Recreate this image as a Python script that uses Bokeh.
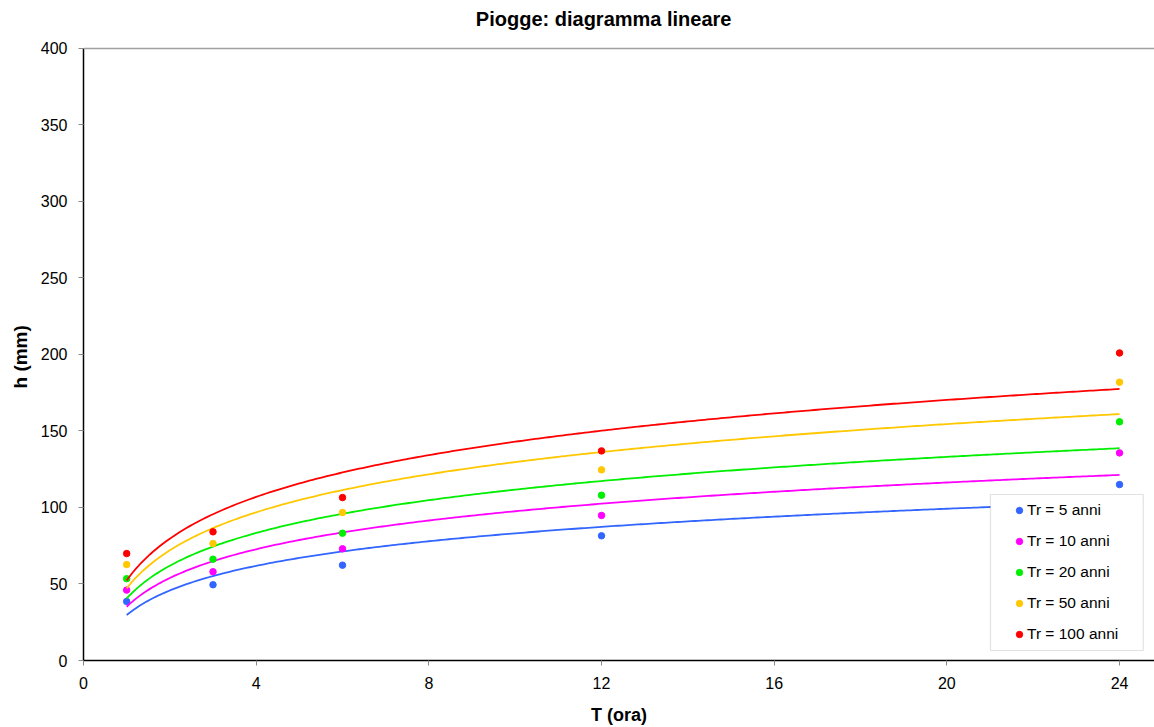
import numpy as np
from bokeh.plotting import figure
from bokeh.models import Legend, LegendItem, Span, FixedTicker, Range1d, Label, BoxAnnotation, Title
from bokeh.embed import file_html
from bokeh.resources import INLINE

# Durations (hours) and rainfall heights (mm) for each return period
durations = [1, 3, 6, 12, 24]
h_tr5 = [38.6, 49.5, 62.3, 81.5, 115.0]
h_tr10 = [46.0, 58.0, 73.0, 94.8, 135.7]
h_tr20 = [53.5, 66.2, 83.2, 108.0, 156.0]
h_tr50 = [62.7, 76.5, 96.7, 124.6, 181.9]
h_tr100 = [69.9, 84.1, 106.5, 137.0, 201.0]

series_labels = ["Tr = 5 anni", "Tr = 10 anni", "Tr = 20 anni", "Tr = 50 anni", "Tr = 100 anni"]
series_values = [h_tr5, h_tr10, h_tr20, h_tr50, h_tr100]
series_colors = ["#3366FF", "#FF00FF", "#00EE00", "#FFC800", "#FF0000"]

x_ticks = [0, 4, 8, 12, 16, 20, 24]
y_ticks = [0, 50, 100, 150, 200, 250, 300, 350, 400]
y_max = 400
title_text = "Piogge: diagramma lineare"
x_label = "T (ora)"
y_label = "h (mm)"

FONT = "Liberation Sans"

# frame spans 5..660 px vertically; 0..400 maps to 660..48 px
p = figure(width=1154, height=727, output_backend="svg", toolbar_location=None,
           x_range=Range1d(0, 24.81), y_range=Range1d(0, 428.1),
           min_border_left=83, min_border_right=0, min_border_top=5, min_border_bottom=67)
p.outline_line_color = None
p.grid.visible = False
p.background_fill_color = "white"
p.border_fill_color = "white"

for ax in (p.xaxis[0], p.yaxis[0]):
    ax.axis_line_color = "black"
    ax.axis_line_width = 1.5
    ax.major_tick_line_color = "#888888"
    ax.major_tick_in = 0
    ax.major_tick_out = 5
    ax.minor_tick_line_color = None
    ax.major_label_text_font = FONT
    ax.major_label_text_font_size = "16px"
    ax.major_label_text_color = "black"
    ax.axis_label_text_font = FONT
    ax.axis_label_text_font_size = "18px"
    ax.axis_label_text_font_style = "bold"
    ax.axis_label_text_color = "black"

p.yaxis.bounds = (0, y_max)
p.xaxis.ticker = FixedTicker(ticks=x_ticks)
p.yaxis.ticker = FixedTicker(ticks=y_ticks)
p.xaxis.axis_label = x_label
p.xaxis.major_label_standoff = 11
p.yaxis.major_label_standoff = 11
p.xaxis.axis_label_standoff = 13

# y axis title, placed along the 0..400 part of the axis
p.add_layout(Title(text=y_label, align="left", offset=272, standoff=13,
                   text_font=FONT, text_font_size="19px", text_font_style="bold",
                   text_color="black"), "left")

# top border of the plot area
p.add_layout(Span(location=y_max, dimension="width", line_color="#A0A0A0", line_width=1.5))

# chart title
p.add_layout(Label(x=12.05, y=419.6, text=title_text, text_align="center",
                   text_baseline="middle", text_font=FONT, text_font_size="20px",
                   text_font_style="bold", text_color="black"))

t = np.array(durations, dtype=float)
t_curve = np.linspace(min(durations), max(durations), 300)
items = []
for label, vals, col in zip(series_labels, series_values, series_colors):
    b, a = np.polyfit(np.log(t), np.array(vals), 1)  # logarithmic trendline
    p.line(t_curve, a + b * np.log(t_curve), line_color=col, line_width=1.8)
    r = p.scatter(durations, vals, size=6.5, color=col, line_color=col)
    items.append(LegendItem(label=label, renderers=[r]))

# legend frame
p.add_layout(BoxAnnotation(left=21.01, right=24.55, bottom=6.54, top=108.5,
                           fill_color="white", fill_alpha=1.0,
                           line_color="#A0A0A0", line_width=1.2, level="annotation"))

legend = Legend(items=items, location=(928, 16), orientation="vertical",
                padding=0, margin=0, spacing=11,
                glyph_width=16, glyph_height=20, label_height=20,
                label_standoff=0,
                label_text_font=FONT, label_text_font_size="15.5px", label_text_color="black",
                border_line_color=None, background_fill_alpha=0)
p.add_layout(legend, "center")

open("out.html", "w").write(file_html(p, INLINE))
